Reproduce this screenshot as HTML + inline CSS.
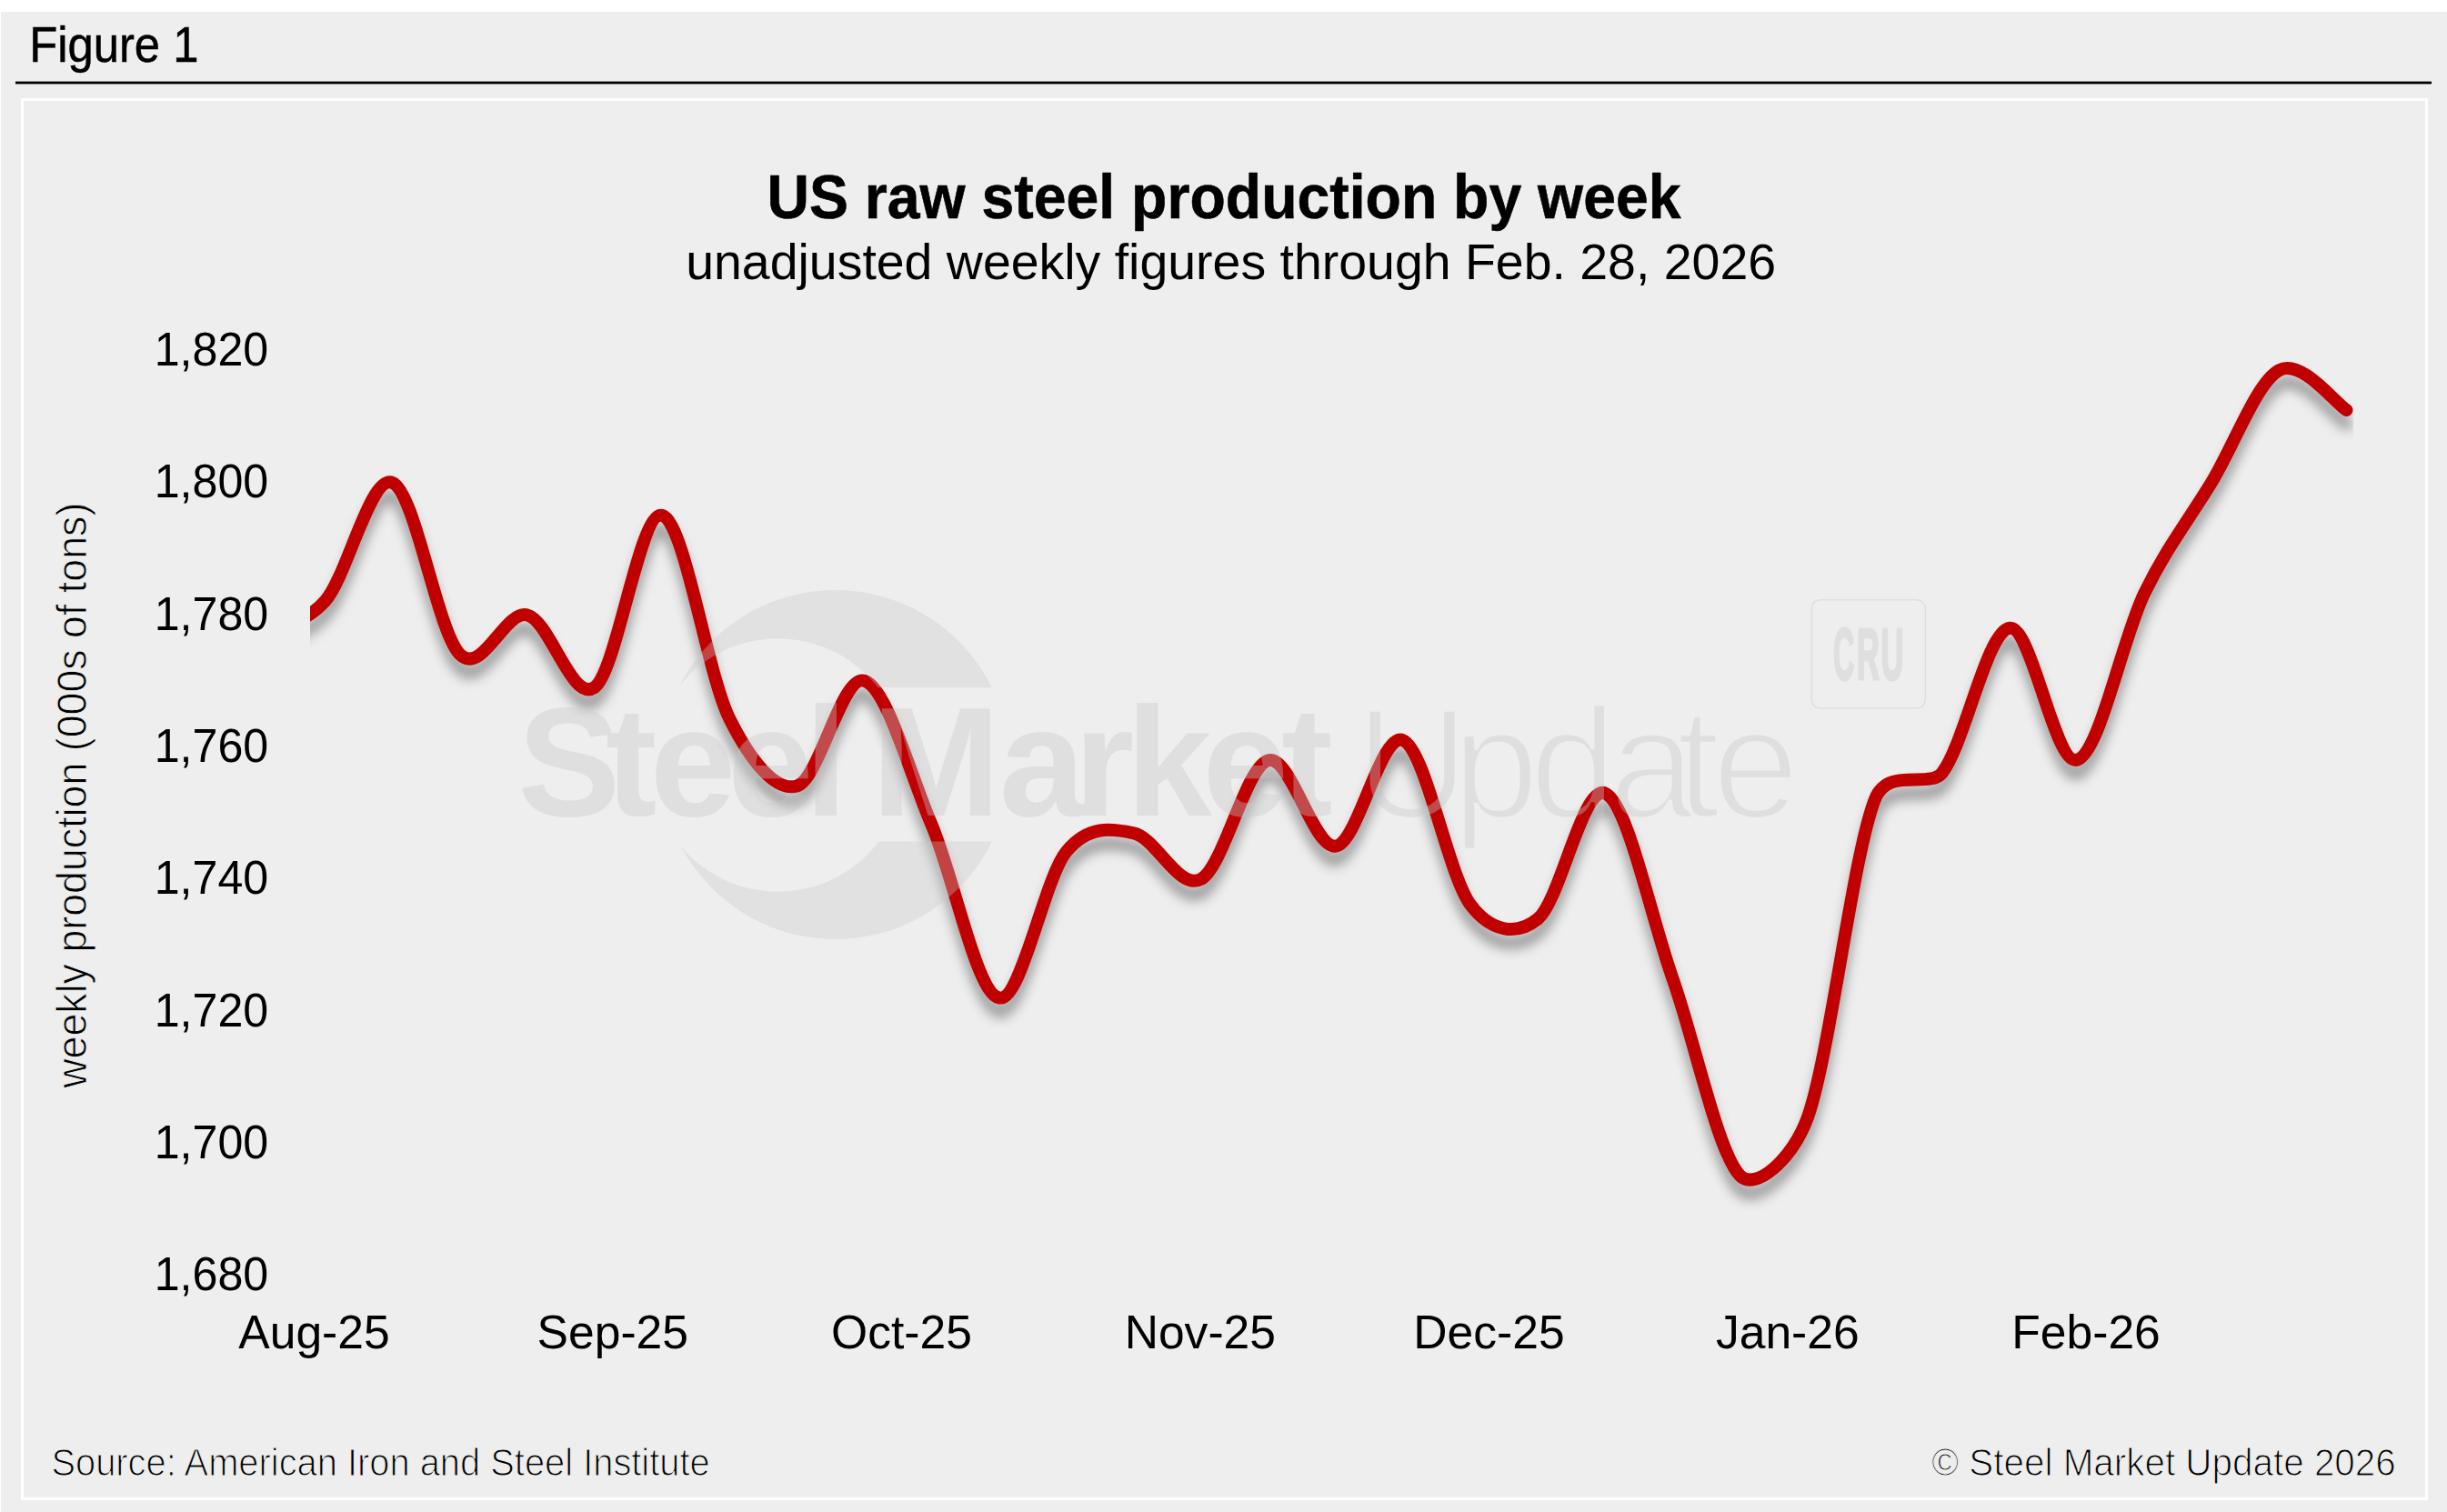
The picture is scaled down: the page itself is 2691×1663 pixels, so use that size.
<!DOCTYPE html>
<html><head><meta charset="utf-8"><title>US raw steel production by week</title>
<style>
html,body{margin:0;padding:0;background:#fff;}
body{width:2691px;height:1663px;overflow:hidden;}
svg{display:block;}
text{font-family:"Liberation Sans",Arial,Helvetica,sans-serif;fill:#000;}
.ax{font-size:51.6px;}
</style></head>
<body>
<svg width="2691" height="1663" viewBox="0 0 2691 1663">
<defs>
<clipPath id="plot"><rect x="341" y="300" width="2247" height="1100"/></clipPath>
<mask id="cres" maskUnits="userSpaceOnUse" x="0" y="0" width="2691" height="1663"><rect x="600" y="600" width="600" height="500" fill="#fff"/><circle cx="855.5" cy="841.5" r="139.25" fill="#000"/><rect x="740" y="756.2" width="460" height="169.3" fill="#000"/></mask>
<mask id="upd" maskUnits="userSpaceOnUse" x="0" y="0" width="2691" height="1663"><text x="1490.9 1596.9 1682.2 1769.5 1843.6 1883.1" y="898.9" style="font-size:171.8px;fill:#fff;stroke:#000;stroke-width:4.5px">Update</text></mask>
<filter id="sh" x="-5%" y="-20%" width="110%" height="140%"><feGaussianBlur stdDeviation="6.5"/></filter>
</defs>
<rect x="0" y="0" width="2691" height="1663" fill="#ffffff"/>
<rect x="1" y="13" width="2690" height="1650" fill="#eeeeee"/>
<text x="32.2" y="67.8" textLength="186.2" lengthAdjust="spacingAndGlyphs" style="font-size:55px;stroke:#000;stroke-width:0.5px">Figure 1</text>
<rect x="17" y="89.6" width="2657" height="2.8" fill="#000"/>
<rect x="24.5" y="109.5" width="2644" height="1539" fill="none" stroke="#ffffff" stroke-width="3"/>
<text x="843.4" y="240.2" textLength="1005.2" lengthAdjust="spacingAndGlyphs" style="font-size:67.6px;font-weight:bold;stroke:#000;stroke-width:0.6px">US raw steel production by week</text>
<text x="754.2" y="307.2" textLength="1198.9" lengthAdjust="spacingAndGlyphs" style="font-size:55.3px">unadjusted weekly figures through Feb. 28, 2026</text>
<text x="169.7" y="402.1" textLength="125.6" lengthAdjust="spacingAndGlyphs" class="ax">1,820</text>
<text x="169.7" y="547.4" textLength="125.6" lengthAdjust="spacingAndGlyphs" class="ax">1,800</text>
<text x="169.7" y="692.8" textLength="125.6" lengthAdjust="spacingAndGlyphs" class="ax">1,780</text>
<text x="169.7" y="838.1" textLength="125.6" lengthAdjust="spacingAndGlyphs" class="ax">1,760</text>
<text x="169.7" y="983.4" textLength="125.6" lengthAdjust="spacingAndGlyphs" class="ax">1,740</text>
<text x="169.7" y="1128.8" textLength="125.6" lengthAdjust="spacingAndGlyphs" class="ax">1,720</text>
<text x="169.7" y="1274.1" textLength="125.6" lengthAdjust="spacingAndGlyphs" class="ax">1,700</text>
<text x="169.7" y="1419.4" textLength="125.6" lengthAdjust="spacingAndGlyphs" class="ax">1,680</text>

<text x="345.5" y="1482.6" text-anchor="middle" class="ax">Aug-25</text>
<text x="673.8" y="1482.6" text-anchor="middle" class="ax">Sep-25</text>
<text x="991.5" y="1482.6" text-anchor="middle" class="ax">Oct-25</text>
<text x="1319.8" y="1482.6" text-anchor="middle" class="ax">Nov-25</text>
<text x="1637.5" y="1482.6" text-anchor="middle" class="ax">Dec-25</text>
<text x="1965.8" y="1482.6" text-anchor="middle" class="ax">Jan-26</text>
<text x="2294.1" y="1482.6" text-anchor="middle" class="ax">Feb-26</text>

<text transform="translate(94.9,1196.8) rotate(-90)" x="0" y="0" textLength="644.1" lengthAdjust="spacingAndGlyphs" style="font-size:45.3px;stroke:#eeeeee;stroke-width:0.9px">weekly production (000s of tons)</text>
<g clip-path="url(#plot)">
<path d="M283.55,699.36 C295.90,692.96 332.94,688.98 357.64,660.91 C382.34,632.83 407.04,521.10 431.74,530.89 C456.43,540.68 481.13,695.39 505.83,719.65 C530.53,743.90 555.23,670.41 579.93,676.44 C604.62,682.46 629.32,774.06 654.02,755.81 C678.72,737.56 703.42,561.18 728.12,566.94 C752.81,572.70 777.51,740.76 802.21,790.36 C825.58,837.27 852.94,871.07 876.31,864.50 C901.00,857.56 925.70,741.62 950.40,748.70 C975.10,755.79 999.80,848.87 1024.50,906.99 C1049.19,965.12 1073.89,1092.53 1098.59,1097.47 C1123.29,1102.41 1147.99,966.83 1172.69,936.64 C1197.01,906.90 1222.46,911.36 1246.78,916.32 C1271.48,921.36 1296.18,980.20 1320.88,966.86 C1345.57,953.51 1370.27,842.30 1394.97,836.26 C1419.67,830.22 1444.37,934.26 1469.07,930.61 C1493.76,926.95 1518.46,803.57 1543.16,814.34 C1567.86,825.11 1592.56,962.55 1617.26,995.24 C1640.06,1025.43 1668.55,1029.38 1691.35,1010.51 C1716.05,990.06 1740.75,861.57 1765.45,872.57 C1790.14,883.57 1814.84,1006.39 1839.54,1076.50 C1864.24,1146.61 1888.94,1267.73 1913.64,1293.22 C1930.11,1310.23 1971.26,1275.49 1987.73,1229.48 C2012.43,1160.49 2037.13,942.57 2061.83,879.29 C2076.32,842.14 2121.42,868.25 2135.92,849.80 C2160.62,818.37 2185.32,693.05 2210.02,690.71 C2234.71,688.36 2259.41,842.08 2284.11,835.71 C2308.81,829.35 2333.51,703.46 2358.21,652.52 C2382.90,601.59 2407.60,571.01 2432.30,530.12 C2457.00,489.24 2481.70,420.40 2506.40,407.21 C2531.09,394.03 2568.14,443.70 2580.49,451.00" fill="none" stroke="#000" stroke-opacity="0.35" stroke-width="14" stroke-linecap="round" stroke-linejoin="round" transform="translate(0,15)" filter="url(#sh)"/>
<path d="M283.55,699.36 C295.90,692.96 332.94,688.98 357.64,660.91 C382.34,632.83 407.04,521.10 431.74,530.89 C456.43,540.68 481.13,695.39 505.83,719.65 C530.53,743.90 555.23,670.41 579.93,676.44 C604.62,682.46 629.32,774.06 654.02,755.81 C678.72,737.56 703.42,561.18 728.12,566.94 C752.81,572.70 777.51,740.76 802.21,790.36 C825.58,837.27 852.94,871.07 876.31,864.50 C901.00,857.56 925.70,741.62 950.40,748.70 C975.10,755.79 999.80,848.87 1024.50,906.99 C1049.19,965.12 1073.89,1092.53 1098.59,1097.47 C1123.29,1102.41 1147.99,966.83 1172.69,936.64 C1197.01,906.90 1222.46,911.36 1246.78,916.32 C1271.48,921.36 1296.18,980.20 1320.88,966.86 C1345.57,953.51 1370.27,842.30 1394.97,836.26 C1419.67,830.22 1444.37,934.26 1469.07,930.61 C1493.76,926.95 1518.46,803.57 1543.16,814.34 C1567.86,825.11 1592.56,962.55 1617.26,995.24 C1640.06,1025.43 1668.55,1029.38 1691.35,1010.51 C1716.05,990.06 1740.75,861.57 1765.45,872.57 C1790.14,883.57 1814.84,1006.39 1839.54,1076.50 C1864.24,1146.61 1888.94,1267.73 1913.64,1293.22 C1930.11,1310.23 1971.26,1275.49 1987.73,1229.48 C2012.43,1160.49 2037.13,942.57 2061.83,879.29 C2076.32,842.14 2121.42,868.25 2135.92,849.80 C2160.62,818.37 2185.32,693.05 2210.02,690.71 C2234.71,688.36 2259.41,842.08 2284.11,835.71 C2308.81,829.35 2333.51,703.46 2358.21,652.52 C2382.90,601.59 2407.60,571.01 2432.30,530.12 C2457.00,489.24 2481.70,420.40 2506.40,407.21 C2531.09,394.03 2568.14,443.70 2580.49,451.00" fill="none" stroke="#c00000" stroke-width="14" stroke-linecap="round" stroke-linejoin="round"/>
</g>
<g opacity="0.37" fill="#c8c8c8">
<circle cx="918.6" cy="841" r="192" mask="url(#cres)" opacity="0.9"/>
<text x="569.1 665.8 714.7 800.1 884.7 930 958.5 1098.8 1180.9 1238.2 1322.5 1409.1" y="897.2" style="font-size:170px;font-weight:bold;fill:#c8c8c8">Steel Market</text>
<rect x="1480" y="740" width="520" height="200" fill="#c8c8c8" mask="url(#upd)"/>
<rect x="1992.3" y="659.8" width="125" height="119.3" rx="9.3" fill="none" stroke="#c8c8c8" stroke-width="1.5"/>
<text transform="translate(2017.35,746.5) scale(0.407,1)" x="-3.25" y="0" style="font-size:79.3px;font-weight:bold;fill:#c8c8c8;stroke:#c8c8c8;stroke-width:2.5px" vector-effect="non-scaling-stroke">C</text>
<text transform="translate(2044.25,746.5) scale(0.435,1)" x="-5.31" y="0" style="font-size:79.3px;font-weight:bold;fill:#c8c8c8;stroke:#c8c8c8;stroke-width:2.5px" vector-effect="non-scaling-stroke">R</text>
<text transform="translate(2070.65,746.5) scale(0.436,1)" x="-4.77" y="0" style="font-size:79.3px;font-weight:bold;fill:#c8c8c8;stroke:#c8c8c8;stroke-width:2.5px" vector-effect="non-scaling-stroke">U</text>
</g>
<text x="56.4" y="1622.7" textLength="724.3" lengthAdjust="spacingAndGlyphs" style="font-size:41.9px;stroke:#eeeeee;stroke-width:1.2px">Source: American Iron and Steel Institute</text>
<text x="2124.3" y="1622.7" textLength="510.5" lengthAdjust="spacingAndGlyphs" style="font-size:42.6px;stroke:#eeeeee;stroke-width:1.2px">© Steel Market Update 2026</text>
</svg>
</body></html>
